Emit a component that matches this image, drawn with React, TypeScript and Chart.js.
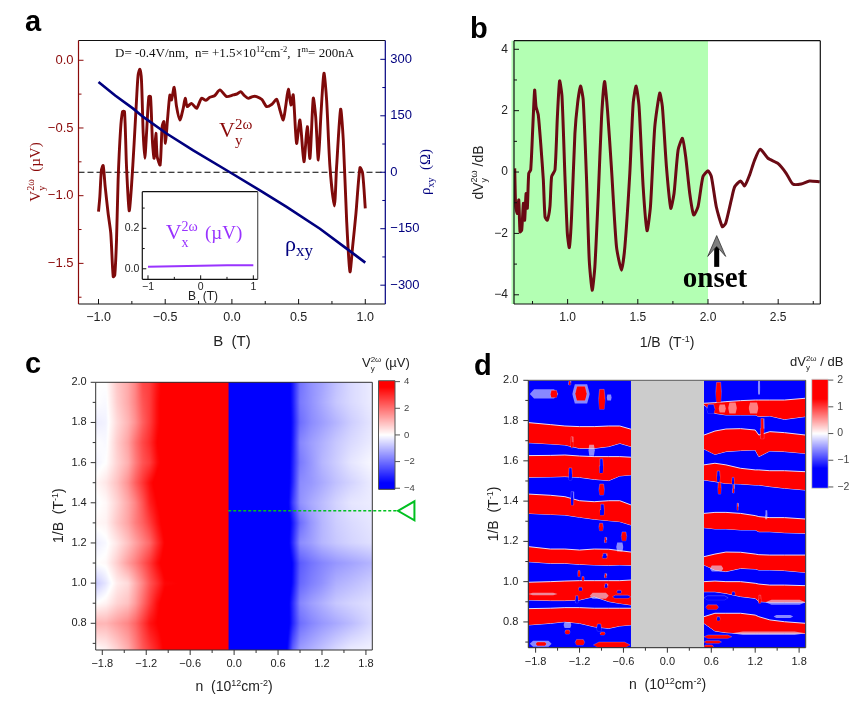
import React, { useEffect, useRef } from "react";
import { Chart, registerables } from "chart.js";
Chart.register(...registerables);

// ---------- Panel a ----------
const aB = [-1,-.99,-.978,-.965,-.95,-.928,-.908,-.89,-.878,-.865,-.853,-.835,-.82,-.805,-.79,-.77,-.753,-.733,-.715,-.703,-.69,-.678,-.665,-.653,-.64,-.623,-.61,-.595,-.583,-.57,-.56,-.538,-.523,-.51,-.498,-.483,-.465,-.453,-.433,-.415,-.39,-.365,-.35,-.335,-.303,-.265,-.228,-.195,-.165,-.13,-.09,-.04,.01,.04,.065,.095,.123,.155,.185,.225,.26,.3,.335,.36,.385,.403,.423,.443,.46,.485,.51,.54,.565,.585,.61,.628,.648,.668,.69,.71,.735,.768,.785,.815,.835,.86,.885,.905,.93,.96,.98,1];
const aVy = [-1.118,-1.007,-.81,-.778,-.933,-1.13,-1.278,-1.598,-1.586,-1.328,-.884,-.515,-.379,-.379,-.786,-1.111,-.933,-.613,-.293,-.108,-.067,-.145,-.539,-.724,-.539,-.268,-.268,-.613,-.724,-.539,-.712,-.773,-.49,-.453,-.613,-.441,-.256,-.293,-.2,-.342,-.441,-.355,-.281,-.342,-.318,-.355,-.281,-.295,-.273,-.262,-.219,-.268,-.256,-.248,-.232,-.262,-.281,-.268,-.268,-.29,-.342,-.325,-.288,-.367,-.441,-.342,-.214,-.33,-.256,-.613,-.441,-.749,-.49,-.724,-.281,-.416,-.736,-.392,-.096,-.293,-.786,-1.076,-.786,-.362,-.589,-1.18,-1.562,-1.377,-1.131,-.793,-.835,-1.094];
const aRhoB = [-1,-.875,-.74,-.665,-.49,-.29,-.015,.21,.41,.66,.86,1];
const aRho = [240,204,169,147,103,58,0,-48,-92,-150,-203,-240];
const aZeroB = [-1.15,1.15];
const aZero = [0,0];
const aXTicks = [-1,-.5,0,.5,1];
const aXMinor = [-.75,-.25,.25,.75];
const aLeftTicks = [0,-.5,-1,-1.5];
const aLeftMinor = [-.25,-.75,-1.25,-1.75];
const aRightTicks = [300,150,0,-150,-300];
const aRightMinor = [225,75,-75,-225];

// ---------- Inset ----------
const insetB = [-1,-.5,0,.5,1];
const insetV = [.01,.012,.015,.017,.018];

// ---------- Panel b ----------
const bX = [.623,.63,.642,.652,.661,.673,.685,.694,.704,.713,.723,.737,.751,.765,.775,.791,.81,.827,.839,.855,.874,.886,.91,.927,.943,.96,.981,.998,1.012,1.028,1.052,1.071,1.092,1.111,1.135,1.154,1.175,1.194,1.218,1.242,1.263,1.284,1.313,1.348,1.384,1.408,1.443,1.467,1.488,1.509,1.538,1.566,1.59,1.621,1.656,1.675,1.704,1.735,1.758,1.787,1.818,1.841,1.87,1.898,1.929,1.964,2,2.024,2.059,2.102,2.126,2.166,2.19,2.232,2.261,2.296,2.332,2.372,2.427,2.498,2.557,2.604,2.664,2.723,2.796];
const bY = [.12,-1.13,-1.35,-.91,-1.95,-1.89,-1.02,-1.57,-.7,-1.18,-.04,.07,1.37,2.67,2.13,1.86,.83,-.26,-1.46,-1.57,-1.13,-.15,.07,1.8,2.97,2.46,-.15,-2,-2.46,-1.46,1.26,2.24,2.8,2.35,-.26,-2.87,-3.85,-3.09,-.8,1.8,2.95,2.02,.07,-2.43,-3.2,-2.43,-.04,2.24,2.8,2.13,-.48,-1.91,-1.13,1.48,2.57,2.13,.17,-1.18,-.7,.72,1.1,.5,-.7,-1.4,-1.13,-.15,.04,-.15,-1.13,-1.78,-1.67,-.91,-.48,-.29,-.45,-.1,.39,.74,.45,.28,-.04,-.39,-.39,-.29,-.32];
const bXTicks = [1,1.5,2,2.5];
const bXMinor = [.75,1.25,1.75,2.25,2.75];
const bYTicks = [4,2,0,-2,-4];
const bYMinor = [3,1,-1,-3];
const bGreen = [.6,2];

// ---------- Panel c ----------
const cN = [-1.89,-1.75,-1.6,-1.45,-1.35,-1.25,-1.15,-1.05,-.95,-.081,-.079,.7,.8,.9,1.05,1.2,1.4,1.6,1.887];
const cInvB = [2,1.9,1.8,1.7,1.6,1.5,1.4,1.3,1.2,1.1,1,.9,.8,.667];
const cRow200 = [0,0,.9,1.4,2,3,3.2,3.9,4.5,4.5,-5,-5,-3.8,-2.3,-1.8,-1.5,-1,-.6,-.3];
const cRow190 = [0,-.1,.8,1.4,2,2.8,3.2,4,4.5,4.5,-5,-5,-3.8,-2.2,-1.8,-1.4,-.9,-.6,-.3];
const cRow180 = [-.3,-.2,.6,1.2,1.8,2.6,3.2,4,4.5,4.5,-5,-5,-3.9,-2.4,-1.9,-1.6,-1.2,-.8,-.4];
const cRow170 = [0,-.1,.8,1.5,2.3,3,3.5,4.2,4.5,4.5,-5,-5,-3.8,-2,-1.6,-1.3,-.9,-.6,-.3];
const cRow160 = [-.2,0,.7,1.3,2.1,2.8,3.2,4,4.5,4.5,-5,-5,-3.7,-2.2,-1.7,-1.2,-.8,-.4,-.1];
const cRow150 = [.1,.4,1,1.8,2.6,3.3,4,4.5,4.5,4.5,-5,-5,-3.6,-1.9,-1.7,-1.4,-1,-.7,-.3];
const cRow140 = [-.1,.1,.7,1.4,2,2.8,3.7,4.2,4.5,4.5,-5,-5,-3.2,-1.8,-1.4,-1.1,-.7,-.4,-.3];
const cRow130 = [.1,.2,.9,1.5,2.1,2.6,3.2,3.9,4.5,4.5,-5,-5,-3.8,-2.4,-1.7,-1.2,-.8,-.6,-.4];
const cRow120 = [-.3,-.1,.4,1,1.5,2,2.5,3.4,4.2,4.5,-5,-5,-3.5,-1.9,-1.6,-1.2,-.9,-.7,-.5];
const cRow110 = [0,.1,.8,1.6,2.1,2.7,3.3,4,4.5,4.5,-5,-5,-4.1,-2.7,-2.3,-2,-1.7,-1.5,-1.2];
const cRow100 = [-.9,-.4,.3,.6,1.3,2,2.8,3.4,4.1,4.5,-5,-5,-4,-2.5,-2.1,-1.8,-1.3,-1.1,-.8];
const cRow090 = [0,.2,.7,1,1.6,2.4,3.2,4,4.5,4.5,-5,-5,-3.5,-2,-1.6,-1.3,-.9,-.7,-.5];
const cRow080 = [1.2,1.2,1.6,2,2.5,3.2,3.9,4.2,4.5,4.5,-5,-5,-3.6,-2.4,-2,-1.7,-1.4,-1.1,-.6];
const cRow067 = [0,.2,.7,1.3,2,2.7,3.2,3.7,4.3,4.5,-5,-4.7,-2.6,-1.6,-1.3,-1,-.6,-.3,-.2];
const cValues = [cRow200,cRow190,cRow180,cRow170,cRow160,cRow150,cRow140,cRow130,cRow120,cRow110,cRow100,cRow090,cRow080,cRow067];
const nTicks = [-1.8,-1.2,-.6,0,.6,1.2,1.8];
const nMinor = [-1.5,-.9,-.3,.3,.9,1.5];
const invTicks = [2,1.8,1.6,1.4,1.2,1,.8];
const invMinor = [1.9,1.7,1.5,1.3,1.1,.9,.7];
const cBarLevels = [-4.1,-3,-2,-1,0,1,2,3,4.1];
const cBarTicks = [4,2,0,-2,-4];
const cMarkerN = [-.08,2.237];
const cMarkerInvB = 1.36;

// ---------- Panel d ----------
const dLeftN = [-1.9,-1.6,-1.4,-1.2,-1,-.8,-.65,-.497];
const dAtop = [1.79,1.78,1.773,1.77,1.77,1.773,1.773,1.757];
const dAbot = [1.69,1.684,1.679,1.662,1.662,1.671,1.687,1.671];
const dBtop = [1.626,1.627,1.629,1.624,1.621,1.621,1.621,1.618];
const dBbot = [1.518,1.52,1.522,1.518,1.508,1.502,1.525,1.53];
const dCtop = [1.435,1.429,1.422,1.402,1.397,1.402,1.402,1.381];
const dCbot = [1.339,1.334,1.331,1.32,1.31,1.303,1.298,1.281];
const dDtop = [1.174,1.162,1.162,1.157,1.162,1.161,1.154,1.147];
const dDbot = [1.099,1.091,1.091,1.086,1.083,1.081,1.083,1.081];
const dEtop = [.997,1,1.003,1.005,1.005,1.005,1.005,1.008];
const dEbot = [.909,.906,.906,.909,.926,.901,.892,.884];
const dFtop = [.866,.868,.871,.871,.868,.868,.868,.868];
const dFbot = [.785,.793,.801,.793,.776,.768,.78,.785];
const dRightN = [.5,.65,.8,1,1.2,1.25,1.4,1.6,1.89];
const dR1top = [1.886,1.889,1.894,1.899,1.902,1.902,1.902,1.902,1.911];
const dR1bot = [1.878,1.836,1.828,1.828,1.828,1.82,1.823,1.806,1.82];
const dR2top = [1.728,1.748,1.758,1.76,1.753,1.728,1.745,1.74,1.728];
const dR2bot = [1.659,1.632,1.646,1.651,1.654,1.621,1.649,1.646,1.637];
const dR3top = [1.58,1.588,1.58,1.563,1.555,1.555,1.551,1.551,1.546];
const dR3bot = [1.505,1.497,1.488,1.485,1.48,1.48,1.472,1.464,1.455];
const dR4top = [1.339,1.344,1.344,1.339,1.328,1.323,1.318,1.318,1.311];
const dR4bot = [1.268,1.262,1.262,1.257,1.257,1.248,1.248,1.243,1.24];
const dR5top = [1.124,1.137,1.147,1.146,1.137,1.134,1.132,1.132,1.132];
const dR5bot = [1.083,1.058,1.05,1.066,1.063,1.058,1.058,1.055,1.046];
const dR6top = [1,1.003,1,1,.992,.988,.983,.983,.98];
const dR6bot = [.95,.95,.942,.926,.917,.901,.898,.898,.898];
const dR7top = [.826,.843,.843,.843,.834,.826,.81,.801,.793];
const dR7bot = [.793,.755,.747,.743,.743,.743,.743,.743,.743];
// patches: n0, n1, 1/B top, 1/B bottom, kind (r red, b blue, p pale, k pink)
const dPatches: [number,number,number,number,string][] = [
  [-1.35,-1.32,2,1.977,"r"],[-1.6,-1.5,1.95,1.915,"r"],[-1.26,-1.1,1.97,1.9,"r"],[-.94,-.85,1.955,1.856,"r"],
  [-.93,-.875,1.61,1.54,"b"],[-.92,-.86,1.385,1.33,"b"],[-1.35,-1.3,1.565,1.505,"b"],[-1.32,-1.28,1.447,1.38,"b"],
  [-.935,-.86,1.485,1.43,"r"],[-.935,-.875,1.29,1.253,"r"],[-.86,-.83,1.22,1.194,"r"],[-.63,-.555,1.247,1.203,"r"],
  [-.89,-.825,1.14,1.116,"b"],[-1.225,-1.19,1.055,1.025,"r"],[-1.17,-1.135,1.025,1.005,"r"],[-1.215,-1.16,.972,.955,"b"],
  [-.86,-.83,1.04,1.02,"r"],[-.86,-.815,.99,.97,"b"],[-.69,-.625,.957,.942,"b"],[-1.32,-1.29,1.72,1.665,"r"],
  [-1.26,-1.215,.93,.895,"b"],[-.75,-.5,.933,.917,"b"],[-.965,-.9,.79,.755,"b"],[-.92,-.85,.75,.735,"r"],[-1.4,-1.33,.76,.74,"r"],
  [-1.26,-1.13,.713,.685,"r"],[-1.01,-.51,.7,.672,"r"],[-1.8,-1.65,.7,.682,"r"],
  [.66,.74,1.99,1.89,"r"],[1.27,1.32,1.81,1.71,"r"],[.675,.72,1.55,1.495,"b"],[.69,.735,1.495,1.435,"r"],
  [.88,.915,1.518,1.483,"b"],[.89,.915,1.483,1.44,"r"],[.95,.97,1.39,1.355,"r"],[.88,.925,.95,.933,"b"],
  [1.245,1.28,.933,.893,"r"],[.525,.7,.885,.862,"r"],[.5,.83,.93,.91,"b"],[.5,.88,.735,.718,"r"],[.5,.74,.707,.694,"r"],[.5,.63,.685,.672,"r"],[.675,.72,.826,.806,"b"],
  [.54,.65,1.88,1.835,"b"],
];
const dPale: [number,number,number,number,string][] = [
  [-1.88,-1.49,1.955,1.91,"p"],[-1.3,-1.06,1.98,1.885,"p"],[-.83,-.76,1.93,1.9,"p"],[-1.08,-.99,1.68,1.625,"p"],
  [-1.06,-.8,.945,.915,"p"],[-1.42,-1.31,.8,.77,"p"],[-1.88,-1.58,.707,.677,"p"],[-1.9,-1.5,.945,.932,"p"],
  [.83,.95,1.89,1.835,"k"],[1.11,1.245,1.89,1.835,"k"],[.7,.8,1.88,1.84,"k"],[1.235,1.27,2,1.93,"p"],
  [1.335,1.37,1.355,1.31,"p"],[.58,.765,1.08,1.05,"p"],[1.34,1.89,.91,.885,"p"],[1.45,1.72,.835,.82,"p"],[.88,1.89,.752,.735,"p"],
  [-.7,-.6,1.195,1.15,"p"],
];
const dBarLevels = [-2.05,-1.5,-1,-.5,0,.5,1,1.5,2.05];
const dBarTicks = [2,1,0,-1,-2];

// ---------- Page drawing helpers ----------
const W = 861, H = 716, AW = 40, AH = 30;
const SANS = '"Liberation Sans"', SERIF = '"Liberation Serif"';
const S = (z: number) => `${z}px ${SANS}`;
const R = (z: number) => `${z}px ${SERIF}`;
type Run = { t: string; f: string; dy?: number; hold?: boolean };
type Label = { x: number; y: number; c: string; runs: Run[]; rot?: boolean; center?: boolean };

function drawLabels(ctx: any, labels: Label[]) {
  for (const l of labels) {
    ctx.save();
    ctx.translate(l.x, l.y);
    if (l.rot) ctx.rotate(-Math.PI / 2);
    ctx.fillStyle = l.c;
    ctx.textAlign = "left";
    ctx.textBaseline = "alphabetic";
    let total = 0;
    for (const r of l.runs) { ctx.font = r.f; if (!r.hold) total += ctx.measureText(r.t).width; }
    let cx = l.center ? -total / 2 : 0;
    for (const r of l.runs) {
      ctx.font = r.f;
      ctx.fillText(r.t, cx, r.dy || 0);
      if (!r.hold) cx += ctx.measureText(r.t).width;
    }
    ctx.restore();
  }
}
const vy = (z: number, sup: number, fam = R, p = "V", sub = "y") => [
  { t: p, f: fam(z) },
  { t: sub, f: fam(sup), dy: z * 0.33, hold: true },
  { t: "2ω", f: fam(sup), dy: -z * 0.4 },
];
const fmt = (d: number) => (v: number) => (v < 0 ? "−" : "") + Math.abs(v).toFixed(d);

function axis(min: number, max: number, ticks: number[], d: number, o: any) {
  const horizontal = o.position === "bottom";
  return {
    type: "linear", position: o.position, min, max, display: o.display !== false,
    border: { display: false }, grid: { display: false, drawTicks: false },
    afterBuildTicks: (a: any) => { a.ticks = ticks.map((value) => ({ value })); },
    afterFit: (a: any) => { if (horizontal) a.height = AH; else a.width = o.aw || AW; },
    ticks: {
      callback: fmt(d), color: o.color || "#222", padding: o.padding,
      font: { family: "Liberation Sans", size: o.size }, autoSkip: false, maxRotation: 0, minRotation: 0,
    },
  };
}
type TickSet = { id: string; side: string; major: number[]; minor: number[]; len: number; inward: boolean; color: string };
function drawTicks(c: any, sets: TickSet[]) {
  const { ctx, chartArea: a } = c;
  ctx.save();
  ctx.lineWidth = 1;
  for (const s of sets) {
    ctx.strokeStyle = s.color;
    const scale = c.scales[s.id];
    const paint = (v: number, len: number) => {
      const p = scale.getPixelForValue(v);
      ctx.beginPath();
      if (s.side === "bottom") { ctx.moveTo(p, a.bottom); ctx.lineTo(p, a.bottom + (s.inward ? -len : len)); }
      if (s.side === "left") { ctx.moveTo(a.left, p); ctx.lineTo(a.left + (s.inward ? len : -len), p); }
      if (s.side === "right") { ctx.moveTo(a.right, p); ctx.lineTo(a.right + (s.inward ? -len : len), p); }
      ctx.stroke();
    };
    s.major.forEach((v) => paint(v, s.len));
    s.minor.forEach((v) => paint(v, s.len * 0.6));
  }
  ctx.restore();
}
function drawFrame(c: any, col: { t: string; r: string; b: string; l: string }, lw = 1.2) {
  const { ctx, chartArea: a } = c;
  ctx.save();
  ctx.lineWidth = lw;
  const seg = (x0: number, y0: number, x1: number, y1: number, s: string) => {
    ctx.strokeStyle = s; ctx.beginPath(); ctx.moveTo(x0, y0); ctx.lineTo(x1, y1); ctx.stroke();
  };
  seg(a.left, a.top, a.right, a.top, col.t);
  seg(a.left, a.bottom, a.right, a.bottom, col.b);
  seg(a.left, a.top, a.left, a.bottom, col.l);
  seg(a.right, a.top, a.right, a.bottom, col.r);
  ctx.restore();
}
function heat(c: any, cols: number[], rows: number[], cmax: number) {
  const { ctx, chartArea: a, scales } = c;
  const pts = c.data.datasets[0].data;
  const w = Math.ceil(a.width), h = Math.ceil(a.height);
  const off = document.createElement("canvas");
  off.width = w; off.height = h;
  const oc = off.getContext("2d")!;
  const img = oc.createImageData(w, h);
  const find = (arr: number[], v: number) => {
    for (let i = 0; i < arr.length - 1; i++) {
      if ((v - arr[i]) * (v - arr[i + 1]) <= 0) return [i, (v - arr[i]) / (arr[i + 1] - arr[i])];
    }
    return v < Math.min(arr[0], arr[arr.length - 1]) === arr[0] < arr[arr.length - 1] ? [0, 0] : [arr.length - 2, 1];
  };
  const nc = cols.length;
  for (let j = 0; j < h; j++) {
    const [r, tr] = find(rows, scales.y.getValueForPixel(a.top + ((j + 0.5) * a.height) / h));
    for (let i = 0; i < w; i++) {
      const [q, tq] = find(cols, scales.x.getValueForPixel(a.left + ((i + 0.5) * a.width) / w));
      const v00 = pts[r * nc + q].v, v01 = pts[r * nc + q + 1].v;
      const v10 = pts[(r + 1) * nc + q].v, v11 = pts[(r + 1) * nc + q + 1].v;
      const v = (v00 * (1 - tq) + v01 * tq) * (1 - tr) + (v10 * (1 - tq) + v11 * tq) * tr;
      const t = Math.max(-1, Math.min(1, v / cmax));
      const k = (j * w + i) * 4;
      img.data[k] = t < 0 ? 255 * (1 + t) : 255;
      img.data[k + 1] = 255 * (1 - Math.abs(t));
      img.data[k + 2] = t > 0 ? 255 * (1 - t) : 255;
      img.data[k + 3] = 255;
    }
  }
  oc.putImageData(img, 0, 0);
  ctx.drawImage(off, a.left, a.top, a.width, a.height);
}
const grid = (cols: number[], rows: number[], vals: number[][]) =>
  rows.flatMap((y, r) => cols.map((x, q) => ({ x, y, v: vals[r][q] })));
const zip = (xs: number[], ys: number[]) => xs.map((x, i) => ({ x, y: ys[i] }));
const line = (xs: number[], ys: number[], color: string, width: number, extra: any = {}) => ({
  data: zip(xs, ys), borderColor: color, borderWidth: width, pointRadius: 0, fill: false, parsing: false, ...extra,
});
const RED = "rgb(255,0,0)", BLUE = "rgb(0,0,255)", EDGE = "rgba(232,232,255,0.95)";
const band = (x: number[], top: number[], bot: number[], color: string, edge = EDGE, bw = 1) => [
  line(x, top, edge, bw, { fill: "+1", backgroundColor: color }),
  line(x, bot, edge, bw),
];
const patch = ([a, b, t, u, k]: [number, number, number, number, string]) => {
  const m = (t + u) / 2, q = (b - a) * 0.15;
  const x = [a, a + q, b - q, b];
  const color = k === "r" ? RED : k === "b" ? BLUE : k === "k" ? "rgba(255,170,170,0.75)" : "rgba(226,226,255,0.6)";
  const e = k === "r" || k === "b" ? "rgba(232,232,255,0.5)" : "rgba(255,255,255,0)";
  return band(x, [m, t, t, m], [m, u, u, m], color, e, k === "r" || k === "b" ? 0.5 : 0);
};

function buildAll(cv: HTMLCanvasElement[]) {
  const base = (L: number, T: number, Rr: number, B: number, o: { rightW?: number; leftAxis?: boolean; bottomAxis?: boolean }) => ({
    responsive: false, animation: false, events: [], maintainAspectRatio: false,
    layout: {
      autoPadding: false,
      padding: {
        left: o.leftAxis === false ? L : L - AW, top: T,
        right: W - Rr - (o.rightW || 0),
        bottom: o.bottomAxis === false ? H - B : H - B - AH,
      },
    },
    plugins: { legend: { display: false }, tooltip: { enabled: false }, title: { display: false } },
  });
  const DR = "#8b0a0a", NAVY = "#00007f", BK = "#111";
  const charts: Chart[] = [];

  // Panel a
  charts.push(new Chart(cv[0], {
    type: "line",
    data: { datasets: [
      line(aRhoB, aRho, "#00007f", 2.6, { yAxisID: "y1" }),
      line(aB, aVy, "#7f0a0a", 2.9, { yAxisID: "y", tension: 0.25 }),
      line(aZeroB, aZero, "#000", 1, { yAxisID: "y1", borderDash: [6, 3] }),
    ] as any },
    options: { ...base(78.5, 40.5, 385.3, 304, { rightW: 45 }),
      scales: {
        x: axis(-1.15, 1.15, aXTicks, 1, { position: "bottom", size: 12.5, padding: 6 }),
        y: axis(-1.8, 0.146, aLeftTicks, 1, { position: "left", size: 13, padding: 5, color: DR }),
        y1: axis(-350, 350, aRightTicks, 0, { position: "right", size: 13, padding: 5, color: NAVY, aw: 45 }),
      } } as any,
    plugins: [{ id: "a", afterDatasetsDraw(c: any) {
      drawFrame(c, { t: BK, r: NAVY, b: BK, l: DR });
      drawTicks(c, [
        { id: "x", side: "bottom", major: aXTicks, minor: aXMinor, len: 5, inward: true, color: BK },
        { id: "y", side: "left", major: aLeftTicks, minor: aLeftMinor, len: 5, inward: true, color: DR },
        { id: "y1", side: "right", major: aRightTicks, minor: aRightMinor, len: 5, inward: true, color: NAVY },
      ]);
      drawLabels(c.ctx, [
        { x: 25, y: 30.7, c: "#000", runs: [{ t: "a", f: `bold 29px ${SANS}` }] },
        { x: 115, y: 56.5, c: "#111", runs: [
          { t: "D= -0.4V/nm,  n= +1.5×10", f: R(13) }, { t: "12", f: R(8.5), dy: -5 }, { t: "cm", f: R(13) }, { t: "-2", f: R(8.5), dy: -5 },
          { t: ",  I", f: R(13) }, { t: "m", f: R(8.5), dy: -5 }, { t: "= 200nA", f: R(13) } ] },
        { x: 219, y: 137.3, c: DR, runs: vy(22, 15) },
        { x: 285, y: 250.7, c: NAVY, runs: [{ t: "ρ", f: R(22) }, { t: "xy", f: R(17), dy: 5 }] },
        { x: 40, y: 172, c: DR, rot: true, center: true, runs: [...vy(15, 10), { t: "  (µV)", f: R(15) }] },
        { x: 430, y: 172, c: NAVY, rot: true, center: true, runs: [{ t: "ρ", f: R(15) }, { t: "xy", f: R(10), dy: 4 }, { t: "  (Ω)", f: R(15) }] },
        { x: 232, y: 345.7, c: "#222", center: true, runs: [{ t: "B  (T)", f: S(15) }] },
      ]);
    } }],
  }));

  // Inset
  charts.push(new Chart(cv[1], {
    type: "line",
    data: { datasets: [line(insetB, insetV, "#9933ff", 2)] as any },
    options: { ...base(142.3, 191.7, 257.7, 279.3, {}),
      scales: {
        x: axis(-1.108, 1.083, [-1, 0, 1], 0, { position: "bottom", size: 10.5, padding: 2 }),
        y: axis(-0.052, 0.381, [0, 0.2], 1, { position: "left", size: 10.5, padding: 3 }),
      } } as any,
    plugins: [{ id: "inset",
      beforeDatasetsDraw(c: any) { const a = c.chartArea; c.ctx.fillStyle = "#fff"; c.ctx.fillRect(a.left, a.top, a.width, a.height); },
      afterDatasetsDraw(c: any) {
        drawFrame(c, { t: BK, r: "#555", b: BK, l: BK });
        drawTicks(c, [
          { id: "x", side: "bottom", major: [-1, 0, 1], minor: [-.5, .5], len: 4, inward: true, color: BK },
          { id: "y", side: "left", major: [0, .2], minor: [.1, .3], len: 4, inward: true, color: BK },
        ]);
        drawLabels(c.ctx, [
          { x: 165.7, y: 239.3, c: "#9933ff", runs: vy(22, 14, R, "V", "x") },
          { x: 205, y: 239.3, c: "#9933ff", runs: [{ t: "(µV)", f: R(19) }] },
          { x: 203, y: 300, c: "#222", center: true, runs: [{ t: "B  (T)", f: S(12) }] },
        ]);
      } }],
  }));

  // Panel b
  charts.push(new Chart(cv[2], {
    type: "line",
    data: { datasets: [line(bX, bY, "#6a0a14", 3, { tension: 0.2 })] as any },
    options: { ...base(514, 40.7, 820.3, 304, {}),
      scales: {
        x: axis(.618, 2.8, bXTicks, 1, { position: "bottom", size: 12, padding: 6 }),
        y: axis(-4.3, 4.28, bYTicks, 0, { position: "left", size: 12, padding: 6 }),
      } } as any,
    plugins: [{ id: "b",
      beforeDatasetsDraw(c: any) {
        const { ctx, chartArea: a, scales } = c;
        const x0 = scales.x.getPixelForValue(bGreen[0]), x1 = scales.x.getPixelForValue(bGreen[1]);
        ctx.fillStyle = "#b3ffb3";
        ctx.fillRect(x0, a.top, x1 - x0, a.height);
      },
      afterDatasetsDraw(c: any) {
        const { ctx, scales } = c;
        drawFrame(c, { t: BK, r: BK, b: BK, l: BK });
        drawTicks(c, [
          { id: "x", side: "bottom", major: bXTicks, minor: bXMinor, len: 5, inward: true, color: BK },
          { id: "y", side: "left", major: bYTicks, minor: bYMinor, len: 5, inward: true, color: BK },
        ]);
        const X = (v: number) => scales.x.getPixelForValue(v), Y = (v: number) => scales.y.getPixelForValue(v);
        const ax = 2.062;
        ctx.save();
        ctx.fillStyle = "#000";
        ctx.fillRect(X(ax - .018), Y(-2.42), X(ax + .018) - X(ax - .018), Y(-3.09) - Y(-2.42));
        ctx.fillStyle = "#7f7f7f";
        ctx.strokeStyle = "#333";
        ctx.lineWidth = 0.8;
        ctx.beginPath();
        ctx.moveTo(X(ax), Y(-2.07));
        ctx.lineTo(X(ax + .064), Y(-2.75));
        ctx.lineTo(X(ax), Y(-2.42));
        ctx.lineTo(X(ax - .064), Y(-2.75));
        ctx.closePath();
        ctx.fill(); ctx.stroke();
        ctx.restore();
        drawLabels(ctx, [
          { x: 470, y: 38.3, c: "#000", runs: [{ t: "b", f: `bold 29px ${SANS}` }] },
          { x: 715, y: 287, c: "#000", center: true, runs: [{ t: "onset", f: `bold 29px ${SERIF}` }] },
          { x: 482.7, y: 172.5, c: "#222", rot: true, center: true, runs: [...vy(14, 9, S, "dV"), { t: " /dB", f: S(14) }] },
          { x: 667, y: 347, c: "#222", center: true, runs: [{ t: "1/B  (T", f: S(14) }, { t: "-1", f: S(9), dy: -5 }, { t: ")", f: S(14) }] },
        ]);
      } }],
  }));

  // Panel c
  charts.push(new Chart(cv[3], {
    type: "scatter",
    data: { datasets: [{ data: grid(cN, cInvB, cValues), pointRadius: 0, parsing: false, showLine: false }] as any },
    options: { ...base(95.7, 382.3, 372.3, 650, {}),
      scales: {
        x: axis(-1.89, 1.887, nTicks, 1, { position: "bottom", size: 11, padding: 7 }),
        y: axis(.667, 2, invTicks, 1, { position: "left", size: 11, padding: 9 }),
      } } as any,
    plugins: [{ id: "c",
      beforeDatasetsDraw(c: any) { heat(c, cN, cInvB, 4.2); },
      afterDatasetsDraw(c: any) {
        const { ctx, scales } = c;
        drawFrame(c, { t: "#333", r: "#333", b: "#333", l: "#333" }, 1);
        drawTicks(c, [
          { id: "x", side: "bottom", major: nTicks, minor: nMinor, len: 5, inward: false, color: "#333" },
          { id: "y", side: "left", major: invTicks, minor: invMinor, len: 5, inward: false, color: "#333" },
        ]);
        const y = scales.y.getPixelForValue(cMarkerInvB);
        const x0 = scales.x.getPixelForValue(cMarkerN[0]), x1 = scales.x.getPixelForValue(cMarkerN[1]);
        ctx.save();
        ctx.strokeStyle = "#00c020";
        ctx.lineWidth = 1.5;
        ctx.setLineDash([3, 2]);
        ctx.beginPath(); ctx.moveTo(x0, y); ctx.lineTo(x1, y); ctx.stroke();
        ctx.setLineDash([]);
        ctx.lineWidth = 2;
        ctx.beginPath(); ctx.moveTo(x1, y); ctx.lineTo(x1 + 16.5, y - 9.5); ctx.lineTo(x1 + 16.5, y + 9.5); ctx.closePath(); ctx.stroke();
        ctx.restore();
        drawLabels(ctx, [
          { x: 25, y: 372.7, c: "#000", runs: [{ t: "c", f: `bold 29px ${SANS}` }] },
          { x: 234, y: 690.7, c: "#222", center: true, runs: [{ t: "n  (10", f: S(14) }, { t: "12", f: S(9), dy: -5 }, { t: "cm", f: S(14) }, { t: "-2", f: S(9), dy: -5 }, { t: ")", f: S(14) }] },
          { x: 63.3, y: 515.7, c: "#222", rot: true, center: true, runs: [{ t: "1/B  (T", f: S(14) }, { t: "-1", f: S(9), dy: -5 }, { t: ")", f: S(14) }] },
          { x: 362, y: 367, c: "#222", runs: [...vy(13, 8, S), { t: " (µV)", f: S(13) }] },
        ]);
      } }],
  }));

  // Colour bar of c
  const barDataC = grid([0, 1], cBarLevels, cBarLevels.map((v) => [v, v]));
  charts.push(new Chart(cv[4], {
    type: "scatter",
    data: { datasets: [{ data: barDataC, pointRadius: 0, parsing: false, showLine: false }] as any },
    options: { ...base(378.5, 380.7, 395, 489.3, { rightW: 30, leftAxis: false, bottomAxis: false }),
      scales: {
        x: { type: "linear", min: 0, max: 1, display: false },
        y: axis(-4.08, 4.07, cBarTicks, 0, { position: "right", size: 9.5, padding: 9, color: "#444", aw: 30 }),
      } } as any,
    plugins: [{ id: "cbar",
      beforeDatasetsDraw(c: any) { heat(c, [0, 1], cBarLevels, 3.6); },
      afterDatasetsDraw(c: any) {
        drawFrame(c, { t: "#555", r: "#555", b: "#333", l: "#555" }, 1);
        drawTicks(c, [{ id: "y", side: "right", major: cBarTicks, minor: [], len: 5, inward: false, color: "#555" }]);
      } }],
  }));

  // Panel d
  const dBands = [
    [dAtop, dAbot], [dBtop, dBbot], [dCtop, dCbot], [dDtop, dDbot], [dEtop, dEbot], [dFtop, dFbot],
  ].flatMap(([t, u]) => band(dLeftN, t, u, RED));
  const dBandsR = [
    [dR1top, dR1bot], [dR2top, dR2bot], [dR3top, dR3bot], [dR4top, dR4bot], [dR5top, dR5bot], [dR6top, dR6bot], [dR7top, dR7bot],
  ].flatMap(([t, u]) => band(dRightN, t, u, RED));
  const clear = "rgba(0,0,0,0)";
  charts.push(new Chart(cv[5], {
    type: "line",
    data: { datasets: [
      ...dPatches.flatMap(patch),
      ...dPale.flatMap(patch),
      ...dBands, ...dBandsR,
      ...band([-1.9, -.497], [2, 2], [.672, .672], BLUE, clear, 0),
      ...band([.5, 1.89], [2, 2], [.672, .672], BLUE, clear, 0),
      ...band([-.497, .5], [2, 2], [.672, .672], "#cccccc", clear, 0),
    ] as any },
    options: { ...base(528.3, 380.3, 805.7, 647.7, {}),
      scales: {
        x: axis(-1.9, 1.89, nTicks, 1, { position: "bottom", size: 11, padding: 8 }),
        y: axis(.672, 2, invTicks, 1, { position: "left", size: 11, padding: 10 }),
      } } as any,
    plugins: [{ id: "d", afterDatasetsDraw(c: any) {
      drawFrame(c, { t: "#555", r: "#333", b: "#222", l: "#222" }, 1);
      drawTicks(c, [
        { id: "x", side: "bottom", major: nTicks, minor: nMinor, len: 5, inward: false, color: "#333" },
        { id: "y", side: "left", major: invTicks, minor: invMinor, len: 5, inward: false, color: "#333" },
      ]);
      drawLabels(c.ctx, [
        { x: 474, y: 375, c: "#000", runs: [{ t: "d", f: `bold 29px ${SANS}` }] },
        { x: 667.5, y: 689.3, c: "#222", center: true, runs: [{ t: "n  (10", f: S(14) }, { t: "12", f: S(9), dy: -5 }, { t: "cm", f: S(14) }, { t: "-2", f: S(9), dy: -5 }, { t: ")", f: S(14) }] },
        { x: 497.7, y: 514, c: "#222", rot: true, center: true, runs: [{ t: "1/B  (T", f: S(14) }, { t: "-1", f: S(9), dy: -5 }, { t: ")", f: S(14) }] },
        { x: 790, y: 365.7, c: "#222", runs: [...vy(13, 8, S, "dV"), { t: " / dB", f: S(13) }] },
      ]);
    } }],
  }));

  // Colour bar of d
  const barDataD = grid([0, 1], dBarLevels, dBarLevels.map((v) => [v, v]));
  charts.push(new Chart(cv[6], {
    type: "scatter",
    data: { datasets: [{ data: barDataD, pointRadius: 0, parsing: false, showLine: false }] as any },
    options: { ...base(811.7, 379.3, 828.3, 488.3, { rightW: 30, leftAxis: false, bottomAxis: false }),
      scales: {
        x: { type: "linear", min: 0, max: 1, display: false },
        y: axis(-2.05, 2.03, dBarTicks, 0, { position: "right", size: 10.5, padding: 9, color: "#444", aw: 30 }),
      } } as any,
    plugins: [{ id: "dbar",
      beforeDatasetsDraw(c: any) { heat(c, [0, 1], dBarLevels, 1.3); },
      afterDatasetsDraw(c: any) {
        drawFrame(c, { t: "#ccc", r: "#ccc", b: "#ccc", l: "#ccc" }, 1);
        drawTicks(c, [{ id: "y", side: "right", major: dBarTicks, minor: [], len: 5, inward: false, color: "#555" }]);
      } }],
  }));
  return charts;
}

export default function App() {
  const refs = useRef<(HTMLCanvasElement | null)[]>([]);
  useEffect(() => {
    const charts = buildAll(refs.current as HTMLCanvasElement[]);
    return () => charts.forEach((c) => c.destroy());
  }, []);
  return (
    <div style={{ position: "absolute", left: 0, top: 0, width: W, height: H, overflow: "hidden", background: "#fff" }}>
      {[0, 1, 2, 3, 4, 5, 6].map((i) => (
        <canvas key={i} ref={(el) => { refs.current[i] = el; }} width={W} height={H}
          style={{ position: "absolute", left: 0, top: 0, width: W, height: H }} />
      ))}
    </div>
  );
}
